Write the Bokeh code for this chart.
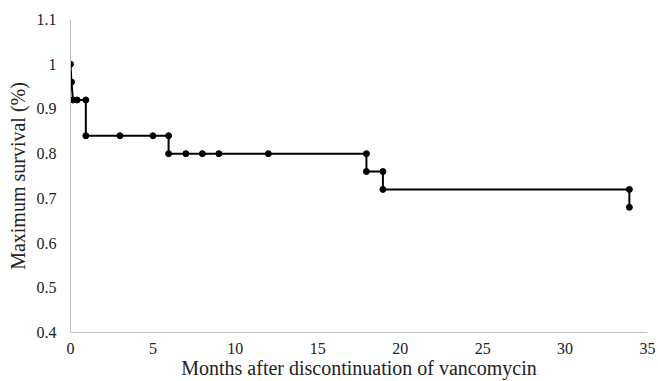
from bokeh.plotting import figure
from bokeh.models import FixedTicker, ColumnDataSource, Range1d
from bokeh.embed import file_html
from bokeh.resources import INLINE

# Kaplan-Meier style points (months, survival)
months = [0, 0.06, 0.15, 0.4, 0.93, 0.93, 3, 5, 5.95, 5.95, 7, 8, 9, 12, 17.95, 17.95, 18.95, 18.95, 33.9, 33.9]
survival = [1.0, 0.96, 0.92, 0.92, 0.92, 0.84, 0.84, 0.84, 0.84, 0.80, 0.80, 0.80, 0.80, 0.80,
            0.80, 0.76, 0.76, 0.72, 0.72, 0.68]

x_ticks = [0, 5, 10, 15, 20, 25, 30, 35]
y_ticks = [0.4, 0.5, 0.6, 0.7, 0.8, 0.9, 1.0, 1.1]
y_labels = ["0.4", "0.5", "0.6", "0.7", "0.8", "0.9", "1", "1.1"]

src = ColumnDataSource(data=dict(x=months, y=survival))

p = figure(frame_width=577, frame_height=313, output_backend="svg", toolbar_location=None,
           x_range=Range1d(0, 35), y_range=Range1d(0.4, 1.1),
           min_border_left=70, min_border_right=9, min_border_top=19, min_border_bottom=46)
p.outline_line_color = None
p.grid.grid_line_color = None
p.background_fill_color = "white"
p.border_fill_color = "white"

p.line("x", "y", source=src, line_color="black", line_width=2)
p.scatter("x", "y", source=src, size=6, fill_color="black", line_color="black")

font = "Liberation Serif"
for ax in (p.xaxis[0], p.yaxis[0]):
    ax.axis_line_color = "#bfbfbf"
    ax.axis_line_width = 1
    ax.major_tick_line_color = None
    ax.minor_tick_line_color = None
    ax.major_label_text_font = font
    ax.major_label_text_font_size = "16px"
    ax.major_label_text_color = "#222222"
    ax.axis_label_text_font = font
    ax.axis_label_text_font_size = "20px"
    ax.axis_label_text_font_style = "normal"
    ax.axis_label_text_color = "#222222"

p.xaxis.ticker = FixedTicker(ticks=x_ticks)
p.yaxis.ticker = FixedTicker(ticks=y_ticks)
p.yaxis.major_label_overrides = {t: l for t, l in zip(y_ticks, y_labels)}
p.xaxis.axis_label = "Months after discontinuation of vancomycin"
p.yaxis.axis_label = "Maximum survival (%)"
p.xaxis.major_label_standoff = 4
p.yaxis.major_label_standoff = 8
p.xaxis.axis_label_standoff = 0
p.yaxis.axis_label_standoff = 5

open("out.html", "w").write(file_html(p, INLINE))
